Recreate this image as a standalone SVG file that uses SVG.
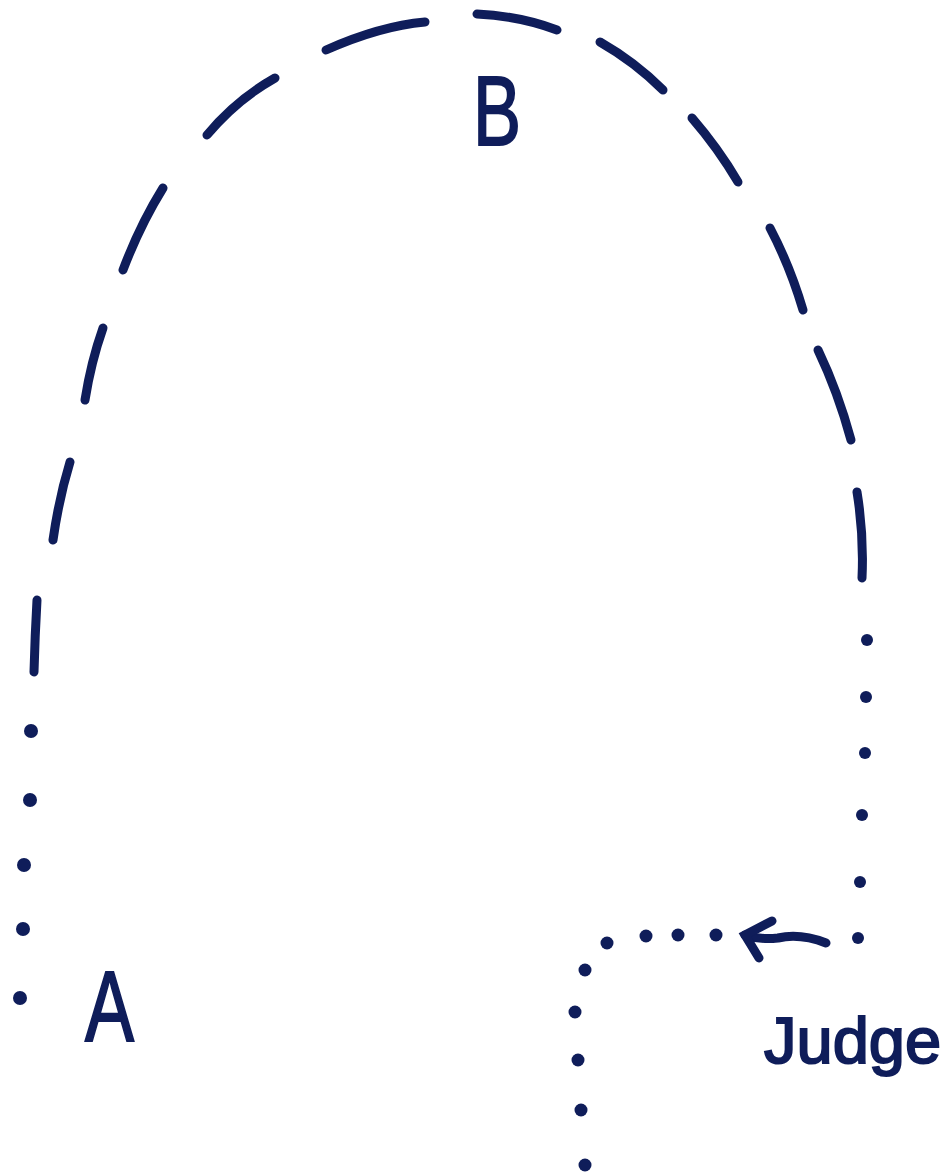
<svg xmlns="http://www.w3.org/2000/svg" width="952" height="1173" viewBox="0 0 952 1173">
<style>
.dash{fill:none;stroke:#0f1d5a;stroke-width:9;stroke-linecap:round}
.dot{fill:#0f1d5a}
.lbl{font-family:"Liberation Sans",Arial,sans-serif;fill:#0f1d5a;stroke:#0f1d5a;stroke-width:2}
</style>
<rect width="952" height="1173" fill="#ffffff"/>
<g id="connectors">
<g id="arc-B">
<path class="dash" d="M34,672 Q35,635 37,600"/>
<path class="dash" d="M53,540 Q59,498 70,462"/>
<path class="dash" d="M85,400 Q91,362 103,328"/>
<path class="dash" d="M123,270 Q140,225 163,188"/>
<path class="dash" d="M207,135 Q236,100 275,78"/>
<path class="dash" d="M326,50 Q380,26 425,22"/>
<path class="dash" d="M477,14 Q520,16 557,30"/>
<path class="dash" d="M600,42 Q635,62 663,90"/>
<path class="dash" d="M692,118 Q718,148 738,182"/>
<path class="dash" d="M770,228 Q790,266 803,310"/>
<path class="dash" d="M818,350 Q838,392 851,440"/>
<path class="dash" d="M857,492 Q864,535 862,578"/>
</g>
<g id="dots-A">
<circle class="dot" cx="31" cy="731" r="7"/>
<circle class="dot" cx="30" cy="800" r="7"/>
<circle class="dot" cx="24" cy="865" r="7"/>
<circle class="dot" cx="23" cy="929" r="7"/>
<circle class="dot" cx="20" cy="998" r="7"/>
</g>
<g id="dots-right">
<circle class="dot" cx="867" cy="640" r="6"/>
<circle class="dot" cx="866" cy="697" r="6"/>
<circle class="dot" cx="865" cy="753" r="6"/>
<circle class="dot" cx="862" cy="815" r="6"/>
<circle class="dot" cx="860" cy="882" r="6"/>
<circle class="dot" cx="858" cy="938" r="6"/>
</g>
<g id="dots-judge">
<circle class="dot" cx="716" cy="935" r="6.5"/>
<circle class="dot" cx="678" cy="935" r="6.5"/>
<circle class="dot" cx="646" cy="936" r="6.5"/>
<circle class="dot" cx="607" cy="943" r="6.5"/>
<circle class="dot" cx="585" cy="970" r="6.5"/>
<circle class="dot" cx="575" cy="1012" r="6.5"/>
<circle class="dot" cx="578" cy="1060" r="6.5"/>
<circle class="dot" cx="581" cy="1110" r="6.5"/>
<circle class="dot" cx="585" cy="1165" r="6.5"/>
</g>
<g id="arrow-judge">
<path class="dash" d="M826,943 Q800,933 778,938 Q760,940 745,935"/>
<path class="dash" d="M772,921 L745,935 L759,958"/>
</g>
</g>
<g id="node-A">
<text class="lbl" x="85" y="1041" font-size="100" textLength="49" lengthAdjust="spacingAndGlyphs">A</text>
</g>
<g id="node-B">
<text class="lbl" x="473" y="145" font-size="98" textLength="48" lengthAdjust="spacingAndGlyphs">B</text>
</g>
<g id="node-Judge">
<text class="lbl" x="764" y="1063" font-size="65">Judge</text>
</g>
</svg>
